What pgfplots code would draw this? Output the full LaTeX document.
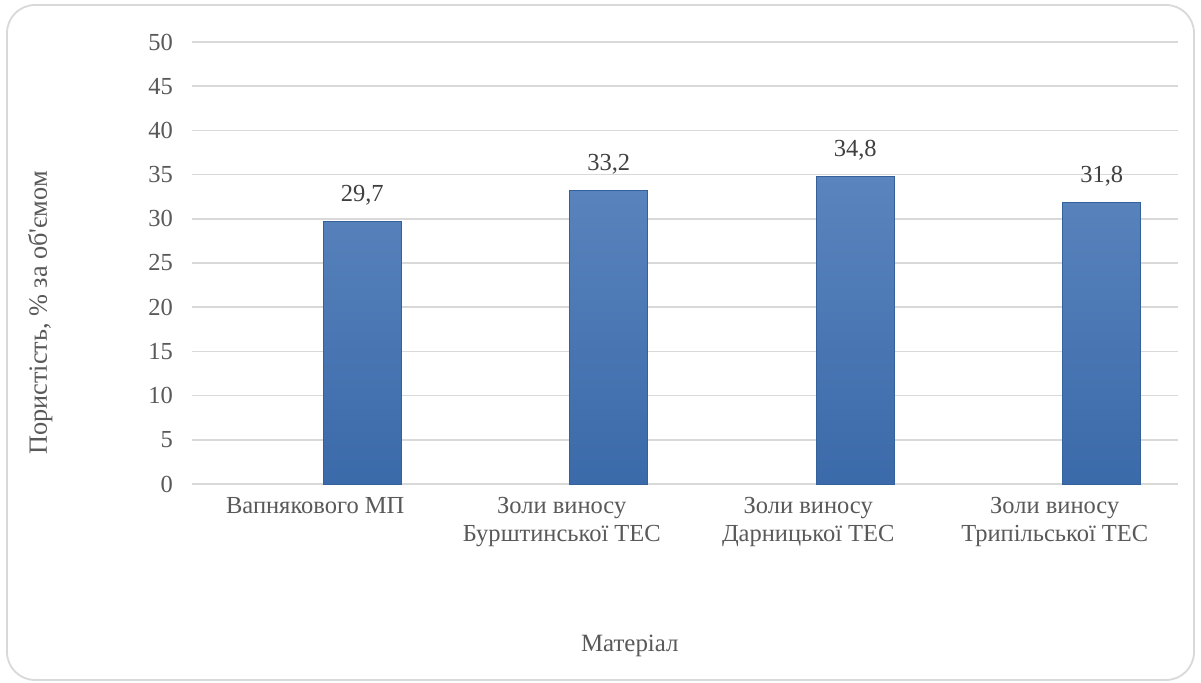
\documentclass[border=0pt]{standalone}
\usepackage{fontspec}
\setmainfont{Liberation Serif}
\usepackage{pgfplots}
\pgfplotsset{compat=1.18}
\definecolor{gridc}{HTML}{D9D9D9}
\definecolor{tickc}{HTML}{595959}
\definecolor{lblc}{HTML}{404040}
\definecolor{bartop}{HTML}{5A84BD}
\definecolor{barbot}{HTML}{3B6AAA}
\definecolor{baredge}{HTML}{34609C}
\begin{document}
\begin{tikzpicture}
\useasboundingbox (0,0) rectangle (600.5bp,341.5bp);
\fill[white] (0,0) rectangle (600.5bp,341.5bp);
\draw[gridc, line width=0.9bp, rounded corners=14bp] (3.5bp,1.5bp) rectangle (597bp,339bp);
\begin{axis}[
  at={(96bp,99.5bp)}, anchor=south west,
  scale only axis,
  width=493bp, height=221bp,
  xmin=-0.5, xmax=3.5, ymin=0, ymax=50,
  ytick={0,5,...,50},
  xtick={0,1,2,3},
  xticklabels={{Вапнякового МП},{Золи виносу\\Бурштинської ТЕС},{Золи виносу\\Дарницької ТЕС},{Золи виносу\\Трипільської ТЕС}},
  major tick length=0pt,
  axis line style={draw=none},
  ymajorgrids,
  grid style={gridc, line width=0.8bp},
  /pgf/number format/assume math mode=true,
  tick label style={font=\fontsize{12.3}{14}\selectfont, text=tickc},
  xticklabel style={align=center, yshift=-3bp},
  yticklabel style={xshift=-6bp},
  xlabel={Матеріал},
  ylabel={Пористість, \% за об{\addfontfeatures{Ligatures=TeXOff}'}ємом},
  label style={font=\fontsize{12.5}{14}\selectfont, text=tickc},
  ylabel style={font=\fontsize{13.2}{15}\selectfont},
  xlabel style={at={(axis description cs:0.444,-0.366)}, anchor=center},
  ylabel style={at={(axis description cs:-0.154,0.387)}, anchor=center},
  ybar, bar width=39bp, bar shift=23.5bp,
  nodes near coords,
  nodes near coords style={font=\fontsize{12.3}{14}\selectfont, text=lblc, anchor=south, yshift=4.5bp,
    /pgf/number format/.cd, fixed, fixed zerofill, precision=1, use comma, assume math mode=true},
  clip=false,
]
\addplot[top color=bartop, bottom color=barbot, draw=baredge, line width=0.5bp]
  coordinates {(0,29.7) (1,33.2) (2,34.8) (3,31.8)};
\end{axis}
\end{tikzpicture}
\end{document}
